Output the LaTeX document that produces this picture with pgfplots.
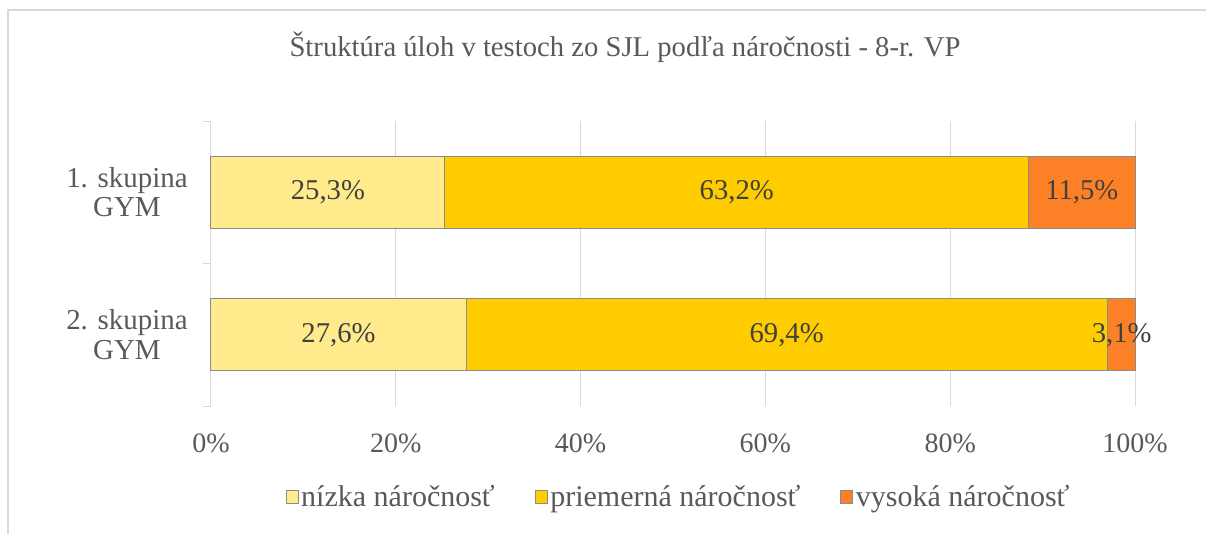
\documentclass[border=0pt]{standalone}
\usepackage{fontspec}
\setmainfont{Liberation Serif}
\usepackage{pgfplots}
\pgfplotsset{compat=1.18}
\definecolor{cLow}{HTML}{FFEB8C}
\definecolor{cMid}{HTML}{FFCC00}
\definecolor{cHigh}{HTML}{FC8126}
\definecolor{cEdge}{HTML}{8C8C8C}
\definecolor{cGrid}{HTML}{D9D9D9}
\definecolor{cText}{HTML}{595959}
\definecolor{cLab}{HTML}{404040}
\newcommand\fsT{\fontsize{21.5}{26}\selectfont}
\newcommand\fsX{\fontsize{21}{25}\selectfont}
\newcommand\fsY{\fontsize{21.7}{22}\selectfont}
\newcommand\fsD{\fontsize{21.5}{26}\selectfont}
\newcommand\fsL{\fontsize{22.5}{27}\selectfont}
\begin{document}
\begin{tikzpicture}
\begin{axis}[
  at={(0,0)}, anchor=south west,
  scale only axis, width=693pt, height=213.75pt,
  clip=false,
  xbar stacked, bar width=54pt,
  xmin=0, xmax=100, ymin=-0.5, ymax=1.5,
  axis y line*=left, axis x line*=bottom,
  x axis line style={draw=none},
  y axis line style={draw=cGrid, line width=0.75pt},
  xmajorgrids, grid style={draw=cGrid, line width=0.75pt},
  xtick={0,20,40,60,80,100},
  xticklabels={0\%,20\%,40\%,60\%,80\%,100\%},
  major tick length=0pt,
  /pgf/number format/assume math mode=true,
  xticklabel style={font=\fsX, text=cText, anchor=base, yshift=-35pt},
  ytick={0,1},
  yticklabels={{2. skupina\\GYM},{1. skupina\\GYM}},
  yticklabel style={font=\fsY, text=cText, align=center, xshift=-14pt},
  extra y ticks={-0.5,0.5,1.5},
  extra y tick labels={},
  extra y tick style={major tick length=6pt, tick align=outside, ymajorgrids=false,
     tick style={draw=cGrid, line width=0.75pt}},
  point meta=rawx,
  nodes near coords={\pgfmathprintnumber[use comma,fixed,fixed zerofill,precision=1]{\pgfplotspointmeta}\%},
  every node near coord/.append style={font=\fsD, text=cLab, anchor=center},
  legend columns=3,
  legend style={at={(0.5065,-0.319)}, anchor=center, draw=none, font=\fsL, text=cText,
     /tikz/every even column/.append style={column sep=28pt},
     inner sep=0pt},
  legend image code/.code={\draw[#1, draw=cEdge, line width=0.6pt] (0pt,-5pt) rectangle (9pt,5pt);},
]
\addplot[fill=cLow, draw=cEdge, line width=0.75pt] coordinates {(25.3,1) (27.6,0)};
\addplot[fill=cMid, draw=cEdge, line width=0.75pt] coordinates {(63.2,1) (69.4,0)};
\addplot[fill=cHigh, draw=cEdge, line width=0.75pt] coordinates {(11.5,1) (3.1,0)};
\legend{nízka náročnosť, priemerná náročnosť, vysoká náročnosť}
\end{axis}
\node[font=\fsT, text=cText] at (310.5pt,269.25pt) {Štruktúra úloh v testoch zo SJL podľa náročnosti - 8-r. VP};
\draw[cGrid, line width=1.5pt] (-152.25pt,-100pt) -- (-152.25pt,297pt) -- (760pt,297pt);
\pgfresetboundingbox
\useasboundingbox (-158.25pt,-95.25pt) rectangle (746.25pt,304.5pt);
\end{tikzpicture}
\end{document}
